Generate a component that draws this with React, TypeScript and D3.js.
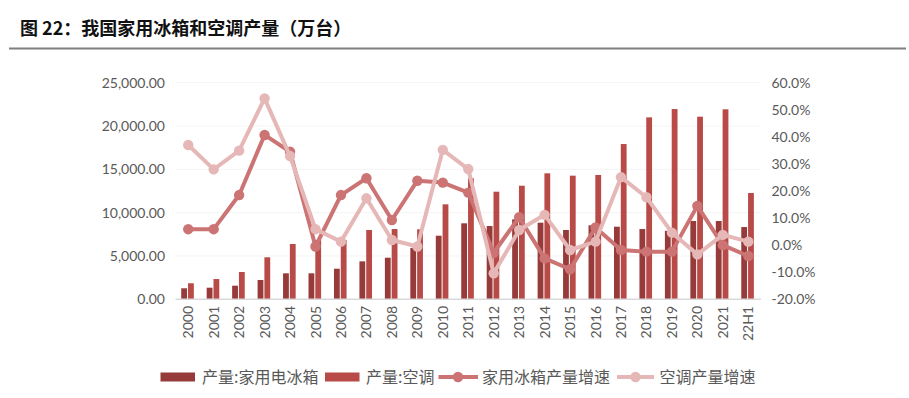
import React from "react";
import * as d3 from "d3";

const categories = ["2000","2001","2002","2003","2004","2005","2006","2007","2008","2009","2010","2011","2012","2013","2014","2015","2016","2017","2018","2019","2020","2021","22H1"];
const fridgeProd = [1270,1340,1570,2230,3000,3000,3530,4380,4800,5930,7340,8770,8460,9230,8840,8000,8540,8380,8110,7900,9040,9040,8340];
const acProd = [1850,2340,3150,4850,6380,6850,6850,8000,8110,8080,10960,13960,12420,13110,14540,14270,14350,17920,21000,21960,21080,21930,12270];
const fridgeGrowth = [5.9,5.9,18.5,40.7,34.5,-0.5,18.5,24.7,9.3,23.8,23.1,19.4,-2.8,10.3,-4.9,-8.9,6.5,-1.8,-2.4,-2.4,14.5,0.0,-4.0];
const acGrowth = [37.0,28.0,34.9,54.2,32.9,5.9,1.3,17.3,1.9,-0.5,35.2,28.1,-10.4,5.6,11.2,-1.8,1.3,25.1,17.7,4.6,-3.4,3.8,1.3];
const leftTicks = [0,5000,10000,15000,20000,25000];
const rightTicks = [-20,-10,0,10,20,30,40,50,60];
const seriesNames = ["产量:家用电冰箱","产量:空调","家用冰箱产量增速","空调产量增速"];
const title = "图 22：我国家用冰箱和空调产量（万台）";

const C_FRIDGE = "#973a3a";
const C_AC = "#b84a48";
const C_FG = "#cc7373";
const C_AG = "#e5b8b7";
const TXT = "#595959";
const NUM_FONT = "Lato, 'Liberation Sans', sans-serif";
const CJK_FONT = "'Noto Sans CJK SC', sans-serif";

export default function App() {
  const W = 909, H = 398;
  const x0 = 175.5, x1 = 761, yTop = 82.7, yBot = 299.3;
  const x = d3.scaleBand<string>().domain(categories).range([x0, x1]).padding(0);
  const yL = d3.scaleLinear().domain([0, 25000]).range([yBot, yTop]);
  const yR = d3.scaleLinear().domain([-20, 60]).range([yBot, yTop]);
  const cx = (c: string) => (x(c) as number) + x.bandwidth() / 2;
  const bw = 5.8;
  const fmtL = d3.format(",.2f");
  const fmtR = (v: number) => v.toFixed(1) + "%";

  const lineF = d3.line<number>().x((_, i) => cx(categories[i])).y((d) => yR(d));

  const legendY = 377;

  return (
    <svg width={W} height={H} style={{ position: "absolute", left: 0, top: 0, background: "#fff" }}>
      <text x={20} y={35} fontFamily={CJK_FONT} fontSize={18} fontWeight={700} fill="#111">{title}</text>
      <line x1={9} x2={906} y1={48.5} y2={48.5} stroke="#7f7f7f" strokeWidth={2} />

      {leftTicks.map((t) => (
        <g key={"l" + t}>
          {t > 0 && <line x1={x0} x2={x1} y1={yL(t)} y2={yL(t)} stroke="#f4f4f4" strokeWidth={1} />}
          <text x={165} y={yL(t)} dy="0.35em" textAnchor="end" fontFamily={NUM_FONT} fontSize={14} fill={TXT}>{fmtL(t)}</text>
        </g>
      ))}
      {rightTicks.map((t) => (
        <text key={"r" + t} x={771.5} y={yR(t)} dy="0.35em" textAnchor="start" fontFamily={NUM_FONT} fontSize={14} fill={TXT}>{fmtR(t)}</text>
      ))}

      {categories.map((c, i) => (
        <g key={"b" + c}>
          <rect x={cx(c) - 7.0} y={yL(fridgeProd[i])} width={bw} height={yBot - yL(fridgeProd[i])} fill={C_FRIDGE} />
          <rect x={cx(c) - 0.2} y={yL(acProd[i])} width={bw} height={yBot - yL(acProd[i])} fill={C_AC} />
        </g>
      ))}
      <line x1={x0} x2={x1} y1={yBot} y2={yBot} stroke="#d9d9d9" strokeWidth={1.5} />

      {categories.map((c) => (
        <text key={"x" + c} transform={`translate(${cx(c) + 5},${306}) rotate(-90)`} textAnchor="end" fontFamily={NUM_FONT} fontSize={14} fill={TXT}>{c}</text>
      ))}

      <path d={lineF(fridgeGrowth) || ""} fill="none" stroke={C_FG} strokeWidth={4} strokeLinejoin="round" />
      {fridgeGrowth.map((v, i) => (
        <circle key={"fg" + i} cx={cx(categories[i])} cy={yR(v)} r={5.2} fill={C_FG} />
      ))}
      <path d={lineF(acGrowth) || ""} fill="none" stroke={C_AG} strokeWidth={4} strokeLinejoin="round" />
      {acGrowth.map((v, i) => (
        <circle key={"ag" + i} cx={cx(categories[i])} cy={yR(v)} r={5.2} fill={C_AG} />
      ))}

      <g>
        <rect x={160.5} y={legendY - 4.5} width={34.5} height={9} fill={C_FRIDGE} />
        <text x={202} y={legendY} dy="0.35em" fontFamily={CJK_FONT} fontSize={16} fill={TXT}>{seriesNames[0]}</text>
        <rect x={325} y={legendY - 4.5} width={34.5} height={9} fill={C_AC} />
        <text x={366} y={legendY} dy="0.35em" fontFamily={CJK_FONT} fontSize={16} fill={TXT}>{seriesNames[1]}</text>
        <line x1={438.5} x2={478} y1={legendY} y2={legendY} stroke={C_FG} strokeWidth={4} />
        <circle cx={458} cy={legendY} r={5.2} fill={C_FG} />
        <text x={482} y={legendY} dy="0.35em" fontFamily={CJK_FONT} fontSize={16} fill={TXT}>{seriesNames[2]}</text>
        <line x1={617} x2={654} y1={legendY} y2={legendY} stroke={C_AG} strokeWidth={4} />
        <circle cx={635.5} cy={legendY} r={5.2} fill={C_AG} />
        <text x={659.5} y={legendY} dy="0.35em" fontFamily={CJK_FONT} fontSize={16} fill={TXT}>{seriesNames[3]}</text>
      </g>
    </svg>
  );
}
